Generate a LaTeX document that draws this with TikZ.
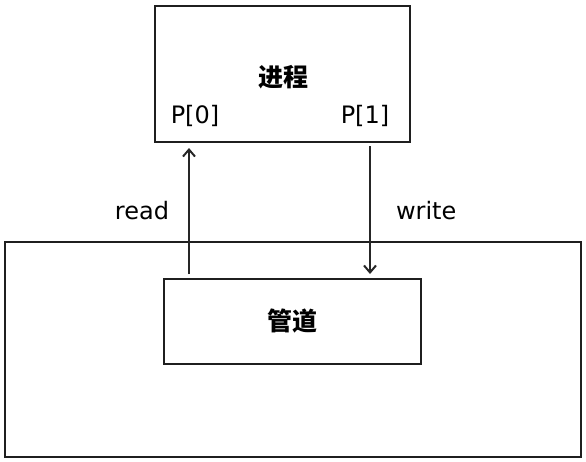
\documentclass[tikz,border=0pt]{standalone}
\usepackage{fontspec}
\setmainfont{DejaVu Sans}
\newfontfamily\cjk{Noto Sans CJK SC}
\usetikzlibrary{arrows.meta}
\tikzset{
  box/.style={draw=black!88, rectangle, line width=2pt},
  flow/.style={-{Straight Barb[length=7pt,width=12pt,line width=2pt]}, draw=black!85, line width=2pt},
  hand/.style={font=\fontsize{24}{28}\selectfont, inner sep=0pt},
  title/.style={font=\cjk\bfseries\fontsize{25}{30}\selectfont}
}
\begin{document}
\begin{tikzpicture}[x=1pt, y=-1pt]
    \useasboundingbox (0,0) rectangle (586,461);
    \node [box, minimum width=255pt, minimum height=136pt] (proc) at (282.5,74) {};
    \node [title] (proctxt) at (283,77) {进程};
    \node [hand] (p0) at (195,116) {P[0]};
    \node [hand] (p1) at (365,116) {P[1]};

    \node [box, minimum width=576pt, minimum height=215pt] (host) at (293,349.5) {};
    \node [box, title, minimum width=257pt, minimum height=85pt] (pipe) at (292.5,321.5) {管道};

    \coordinate (rd) at (189,0);
    \coordinate (wr) at (370,0);
    \draw[flow, shorten <=4pt, shorten >=5pt] (pipe.north -| rd) -- node[hand, midway, left=19pt] {read} (proc.south -| rd);
    \draw[flow, shorten <=3pt, shorten >=4pt] (proc.south -| wr) -- node[hand, midway, right=25pt] {write} (pipe.north -| wr);
\end{tikzpicture}
\end{document}
